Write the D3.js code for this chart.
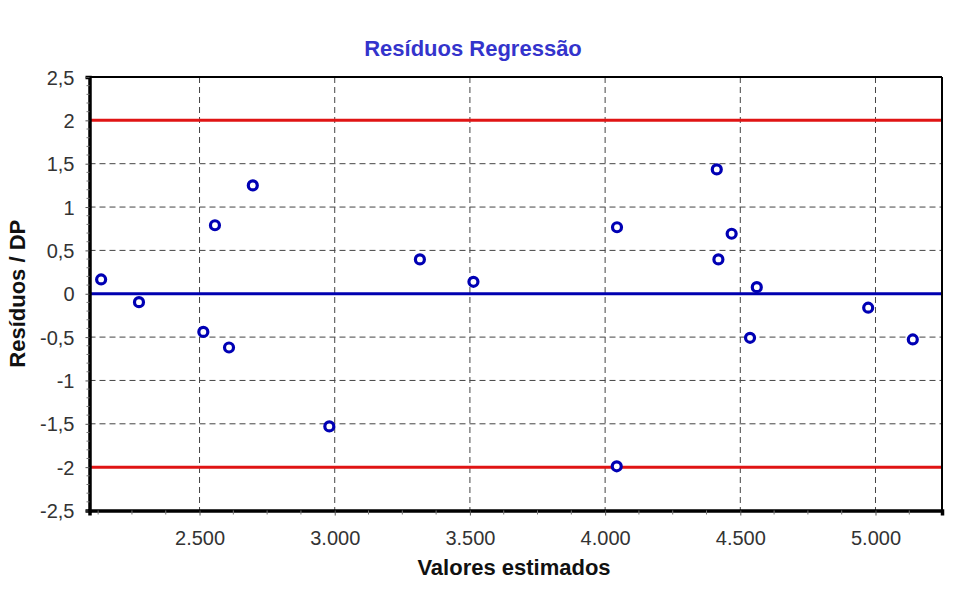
<!DOCTYPE html>
<html>
<head>
<meta charset="utf-8" />
<script src="https://cdn.jsdelivr.net/npm/d3@7"></script>
<style>
  body { margin: 0; background: #fff; }
  svg { font-family: "Liberation Sans", Arial, sans-serif; }
  .grid line { stroke: #444; stroke-width: 1; stroke-dasharray: 6,4; }
  .ticklabel { fill: #333; font-size: 20px; }
  .title { fill: #3434cc; font-size: 22px; font-weight: bold; }
  .axistitle { fill: #111; font-size: 22px; font-weight: bold; }
</style>
</head>
<body>
<div id="chart"></div>
<script>
// data
var estimados = [2.136, 2.276, 2.514, 2.609, 2.557, 2.697, 2.980, 3.315, 3.513,
                 4.043, 4.044, 4.413, 4.468, 4.419, 4.561, 4.536, 4.973, 5.138];
var residuos  = [0.165, -0.097, -0.44, -0.62, 0.79, 1.25, -1.53, 0.396, 0.138,
                 -1.99, 0.767, 1.434, 0.692, 0.396, 0.076, -0.508, -0.161, -0.527];
var yTicks = [2.5, 2, 1.5, 1, 0.5, 0, -0.5, -1, -1.5, -2, -2.5];
var xTicks = [2.5, 3.0, 3.5, 4.0, 4.5, 5.0];
var limites = [2, -2];

var W = 956, H = 596;
var pLeft = 89.5, pRight = 942, pTop = 77, pBottom = 510.5;

var svg = d3.select("#chart").append("svg")
  .attr("width", W)
  .attr("height", H);

var x = d3.scaleLinear().domain([2.093, 5.246]).range([pLeft, pRight]);
var y = d3.scaleLinear().domain([-2.5, 2.5]).range([pBottom, pTop]);

var fmtX = function (v) { return d3.format(".3f")(v); };
var fmtY = function (v) { return String(v).replace(".", ","); };

// grid
var grid = svg.append("g").attr("class", "grid");
grid.selectAll("line.h")
  .data(yTicks.filter(function (d) { return d > -2.5 && d < 2.5; }))
  .enter().append("line")
  .attr("x1", pLeft).attr("x2", pRight)
  .attr("y1", function (d) { return y(d); })
  .attr("y2", function (d) { return y(d); });
grid.selectAll("line.v")
  .data(xTicks)
  .enter().append("line")
  .attr("y1", pTop).attr("y2", pBottom)
  .attr("x1", function (d) { return x(d); })
  .attr("x2", function (d) { return x(d); });

// limit lines at +-2 and zero line
svg.selectAll("line.limite")
  .data(limites)
  .enter().append("line")
  .attr("x1", pLeft).attr("x2", pRight)
  .attr("y1", function (d) { return y(d); })
  .attr("y2", function (d) { return y(d); })
  .attr("stroke", "#e01414")
  .attr("stroke-width", 3);

svg.append("line")
  .attr("x1", pLeft).attr("x2", pRight)
  .attr("y1", y(0)).attr("y2", y(0))
  .attr("stroke", "#0000b0")
  .attr("stroke-width", 3);

// frame
svg.append("line").attr("x1", pLeft).attr("x2", pRight).attr("y1", pTop).attr("y2", pTop)
  .attr("stroke", "#000").attr("stroke-width", 2);
svg.append("line").attr("x1", pRight).attr("x2", pRight).attr("y1", pTop).attr("y2", pBottom)
  .attr("stroke", "#000").attr("stroke-width", 2);

// y axis
var yAxis = d3.axisLeft(y).tickValues(yTicks).tickSize(4).tickFormat(fmtY);
var gy = svg.append("g").attr("transform", "translate(" + pLeft + ",0)").call(yAxis);
gy.select(".domain").attr("stroke", "#000").attr("stroke-width", 3.5);
gy.selectAll("text").attr("class", "ticklabel").attr("font-family", null).attr("font-size", null)
  .attr("fill", null).attr("x", -15).attr("dy", "0.35em");
gy.selectAll(".tick line").attr("stroke", "#555");
var yMinor = d3.range(-2.5, 2.5001, 0.1).filter(function (d) { return Math.abs(d * 2 - Math.round(d * 2)) > 0.01; });
svg.append("g").selectAll("line")
  .data(yMinor)
  .enter().append("line")
  .attr("x1", pLeft - 3).attr("x2", pLeft)
  .attr("y1", function (d) { return y(d); })
  .attr("y2", function (d) { return y(d); })
  .attr("stroke", "#777");

// x axis
var xAxis = d3.axisBottom(x).tickValues(xTicks).tickSize(5).tickFormat(fmtX);
var gx = svg.append("g").attr("transform", "translate(0," + pBottom + ")").call(xAxis);
gx.select(".domain").attr("stroke", "#000").attr("stroke-width", 3.5);
gx.selectAll("text").attr("class", "ticklabel").attr("font-family", null).attr("font-size", null)
  .attr("fill", null).attr("y", 20).attr("dy", "0.71em");
gx.selectAll(".tick line").attr("stroke", "#555");
var xMinor = d3.range(2.125, 5.246, 0.125).filter(function (d) { return Math.abs(d * 2 - Math.round(d * 2)) > 0.01; });
svg.append("g").selectAll("line")
  .data(xMinor)
  .enter().append("line")
  .attr("y1", pBottom).attr("y2", pBottom + 4)
  .attr("x1", function (d) { return x(d); })
  .attr("x2", function (d) { return x(d); })
  .attr("stroke", "#777");

// points
svg.selectAll("circle.pt")
  .data(estimados)
  .enter().append("circle")
  .attr("class", "pt")
  .attr("cx", function (d) { return x(d); })
  .attr("cy", function (d, i) { return y(residuos[i]); })
  .attr("r", 4.5)
  .attr("fill", "#fff")
  .attr("stroke", "#0000b4")
  .attr("stroke-width", 3.2);

// titles
svg.append("text").attr("class", "title")
  .attr("x", 473).attr("y", 56)
  .attr("text-anchor", "middle")
  .text("Resíduos Regressão");

svg.append("text").attr("class", "axistitle")
  .attr("x", 514).attr("y", 575)
  .attr("text-anchor", "middle")
  .text("Valores estimados");

svg.append("text").attr("class", "axistitle")
  .attr("transform", "translate(25," + ((pTop + pBottom) / 2) + ") rotate(-90)")
  .attr("text-anchor", "middle")
  .text("Resíduos / DP");
</script>
</body>
</html>
